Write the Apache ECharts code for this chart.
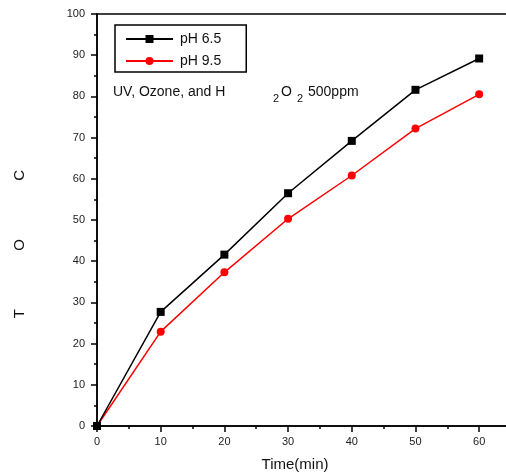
<!DOCTYPE html>
<html>
<head>
<meta charset="utf-8">
<script src="https://cdn.jsdelivr.net/npm/echarts@6/dist/echarts.min.js"></script>
<style>
  html, body { margin: 0; padding: 0; background: #fff; }
  #chart { width: 506px; height: 474px; }
</style>
</head>
<body>
<div id="chart"></div>
<script>
// Sampling times (min) and TOC removal for the two pH conditions
const times = [0, 10, 20, 30, 40, 50, 60];
const tocPh65 = [0, 27.7, 41.6, 56.5, 69.2, 81.6, 89.2];
const tocPh95 = [0, 22.9, 37.3, 50.3, 60.8, 72.2, 80.5];
const seriesNames = ['pH 6.5', 'pH 9.5'];

const FONT = 'Liberation Sans, Arial, sans-serif';

const chart = echarts.init(document.getElementById('chart'), null, { renderer: 'canvas' });

const pairs = (ys) => times.map((t, i) => [t, ys[i]]);

chart.setOption({
  animation: false,
  backgroundColor: '#ffffff',
  grid: {
    left: 97, top: 14, width: 414, height: 412,
    outerBoundsMode: 'none',
    containLabel: false,
    show: true, borderColor: '#000', borderWidth: 1.5, backgroundColor: 'transparent'
  },
  legend: {
    orient: 'vertical',
    left: 115, top: 25,
    padding: [7, 25, 4, 10],
    itemWidth: 47, itemHeight: 10, itemGap: 8,
    borderColor: '#000', borderWidth: 1.5,
    textStyle: { fontFamily: FONT, fontSize: 14, color: '#111', padding: [0, 0, 0, 2] },
    data: seriesNames
  },
  xAxis: {
    type: 'value',
    min: 0, max: 65, interval: 10,
    name: 'Time(min)',
    nameLocation: 'middle',
    nameGap: 31,
    nameTextStyle: { fontFamily: FONT, fontSize: 15, color: '#111', padding: [0, 18, 0, 0] },
    axisLine: { lineStyle: { color: '#000', width: 1.5 } },
    axisTick: { inside: false, length: 6, lineStyle: { color: '#000', width: 1.5 } },
    minorTick: { show: true, splitNumber: 2, length: 3, lineStyle: { color: '#000', width: 1.5 } },
    axisLabel: { fontFamily: FONT, fontSize: 11, color: '#222', margin: 10,
      formatter: (v) => (v > 60 ? '' : String(v)) },
    splitLine: { show: false }
  },
  yAxis: {
    type: 'value',
    min: 0, max: 100, interval: 10,
    axisLine: { lineStyle: { color: '#000', width: 1.5 } },
    axisTick: { inside: false, length: 6, lineStyle: { color: '#000', width: 1.5 } },
    minorTick: { show: true, splitNumber: 2, length: 3, lineStyle: { color: '#000', width: 1.5 } },
    axisLabel: { fontFamily: FONT, fontSize: 11, color: '#222', margin: 12 },
    splitLine: { show: false }
  },
  series: [
    {
      name: seriesNames[0],
      type: 'line',
      data: pairs(tocPh65),
      symbol: 'rect',
      symbolSize: 8,
      showAllSymbol: true,
      color: '#000',
      lineStyle: { color: '#000', width: 1.5 },
      itemStyle: { color: '#000' },
      z: 3
    },
    {
      name: seriesNames[1],
      type: 'line',
      data: pairs(tocPh95),
      symbol: 'circle',
      symbolSize: 8,
      color: '#ff0000',
      lineStyle: { color: '#ff0000', width: 1.5 },
      itemStyle: { color: '#ff0000' },
      z: 2
    }
  ],
  graphic: [
    // vertical axis title
    {
      type: 'text',
      x: 20, y: 244,
      rotation: Math.PI / 2,
      style: {
        text: 'T              O              C',
        fontFamily: FONT, fontSize: 15, fill: '#111',
        align: 'center', verticalAlign: 'middle'
      }
    },
    // treatment annotation with subscripts
    {
      type: 'group',
      children: [
        { type: 'text', x: 113, y: 92, style: { text: 'UV, Ozone, and H', fontFamily: FONT, fontSize: 14, fill: '#111', verticalAlign: 'middle' } },
        { type: 'text', x: 273, y: 99, style: { text: '2', fontFamily: FONT, fontSize: 11, fill: '#111', verticalAlign: 'middle' } },
        { type: 'text', x: 281, y: 92, style: { text: 'O', fontFamily: FONT, fontSize: 14, fill: '#111', verticalAlign: 'middle' } },
        { type: 'text', x: 297, y: 99, style: { text: '2', fontFamily: FONT, fontSize: 11, fill: '#111', verticalAlign: 'middle' } },
        { type: 'text', x: 308, y: 92, style: { text: '500ppm', fontFamily: FONT, fontSize: 14, fill: '#111', verticalAlign: 'middle' } }
      ]
    }
  ]
});
</script>
</body>
</html>
